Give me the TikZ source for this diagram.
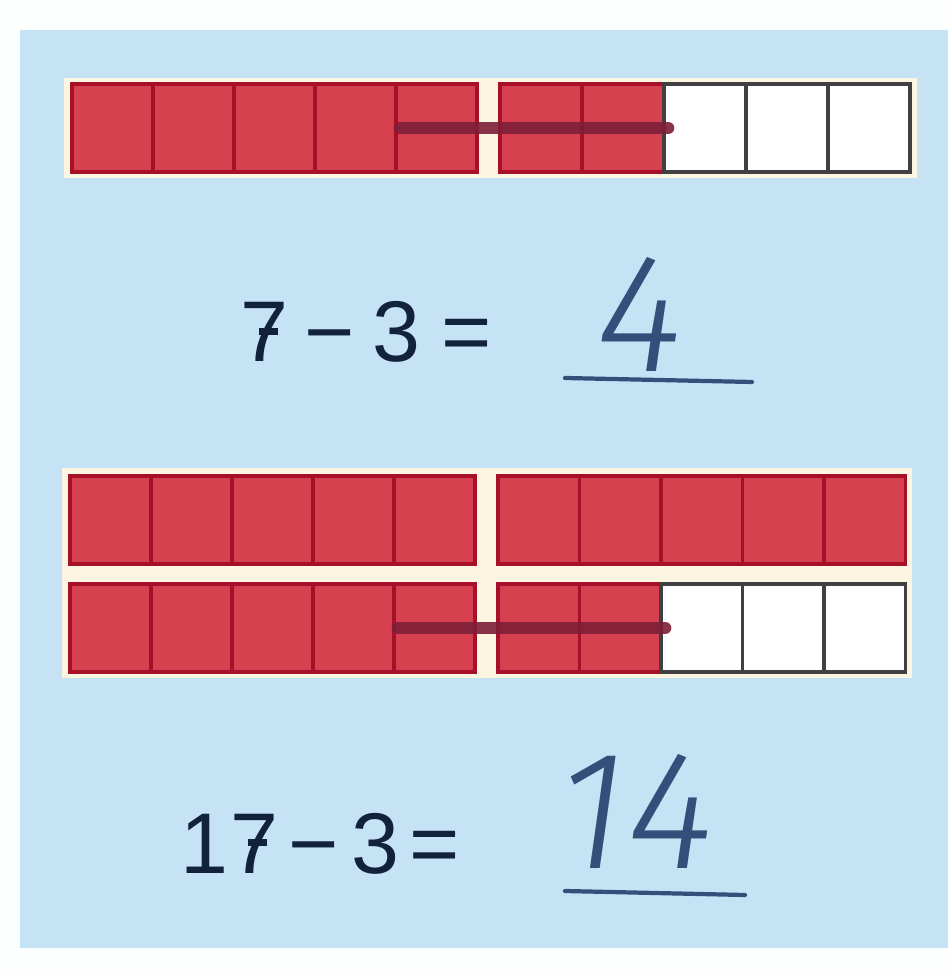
\documentclass[tikz,border=0pt]{standalone}
\usepackage{fontspec}
\setmainfont{Liberation Sans}
\newfontfamily\handfont{Fira Sans}[UprightFont=* Light Italic]
\definecolor{panelblue}{HTML}{C6E3F5}
\definecolor{cellred}{HTML}{D6404F}
\definecolor{edgered}{HTML}{A8102A}
\definecolor{strikered}{HTML}{7E1E38}
\definecolor{cream}{HTML}{FCF5E2}
\definecolor{inkblue}{HTML}{13223B}
\definecolor{penblue}{HTML}{34507A}
\newcommand\barseven{\makebox[0pt][l]{\kern0.21em\raisebox{0.31em}{\rule{0.22em}{0.085em}}}7}

\begin{document}
\begin{tikzpicture}[x=0.01cm,y=-0.01cm,redcell/.style={draw=edgered, fill=cellred, line width=0.9pt, minimum width=0.81cm, minimum height=0.88cm, inner sep=0pt, outer sep=0pt, anchor=north west},blankcell/.style={redcell, draw=black!75, fill=white},strip/.style={fill=cream},strike/.style={draw=strikered, line width=3.6pt, line cap=round, opacity=0.9},printed/.style={font=\fontsize{24.5}{28}\selectfont, text=inkblue, inner sep=0pt, anchor=base west},hand/.style={font=\handfont\fontsize{48}{52}\selectfont, text=penblue, inner sep=0pt, anchor=base},underl/.style={draw=penblue, line width=1.2pt, line cap=round}]
\useasboundingbox (0,0) rectangle (948,974);
\fill[white!96!panelblue] (0,0) rectangle (948,974);
\fill[panelblue] (20,30) rectangle (948,948);
\fill[strip] (64,78) rectangle (917,178);
\foreach \i in {1,...,5} {\node[redcell] (tl\i) at ({72+81*(\i-1)},84) {};}
\foreach \i in {1,2} {\node[redcell, minimum width=0.82cm] (tr\i) at ({500+82*(\i-1)},84) {};}
\foreach \i in {3,4,5} {\node[blankcell, minimum width=0.82cm] (tr\i) at ({500+82*(\i-1)},84) {};}
\draw[strike] ([xshift=0.04cm]tl5.west) -- ([xshift=0.04cm]tr2.east);
\node[printed] (eqa) at (240,362) {\barseven\kern4.5pt−\kern5pt3\kern6pt=};
\node[hand] (ansa) at (640,372) {4};
\draw[underl] (565,378) -- (752,382);
\fill[strip] (62,468) rectangle (912,678);
\foreach \i in {1,...,5} {\node[redcell] (ml\i) at ({70+81*(\i-1)},476) {};\node[redcell, minimum width=0.815cm] (mr\i) at ({498+81.5*(\i-1)},476) {};}
\foreach \i in {1,...,5} {\node[redcell] (bl\i) at ({70+81*(\i-1)},584) {};}
\foreach \i in {1,2} {\node[redcell, minimum width=0.815cm] (br\i) at ({498+81.5*(\i-1)},584) {};}
\foreach \i in {3,4,5} {\node[blankcell, minimum width=0.815cm] (br\i) at ({498+81.5*(\i-1)},584) {};}
\draw[strike] ([xshift=0.04cm]bl5.west) -- ([xshift=0.04cm]br2.east);
\node[printed] (eqb) at (180,873) {1\kern0.5pt\barseven\kern3pt−\kern3.5pt3\kern3pt=};
\node[hand] (ansb) at (636,868) {14};
\draw[underl] (565,891) -- (745,895);
\end{tikzpicture}
\end{document}
